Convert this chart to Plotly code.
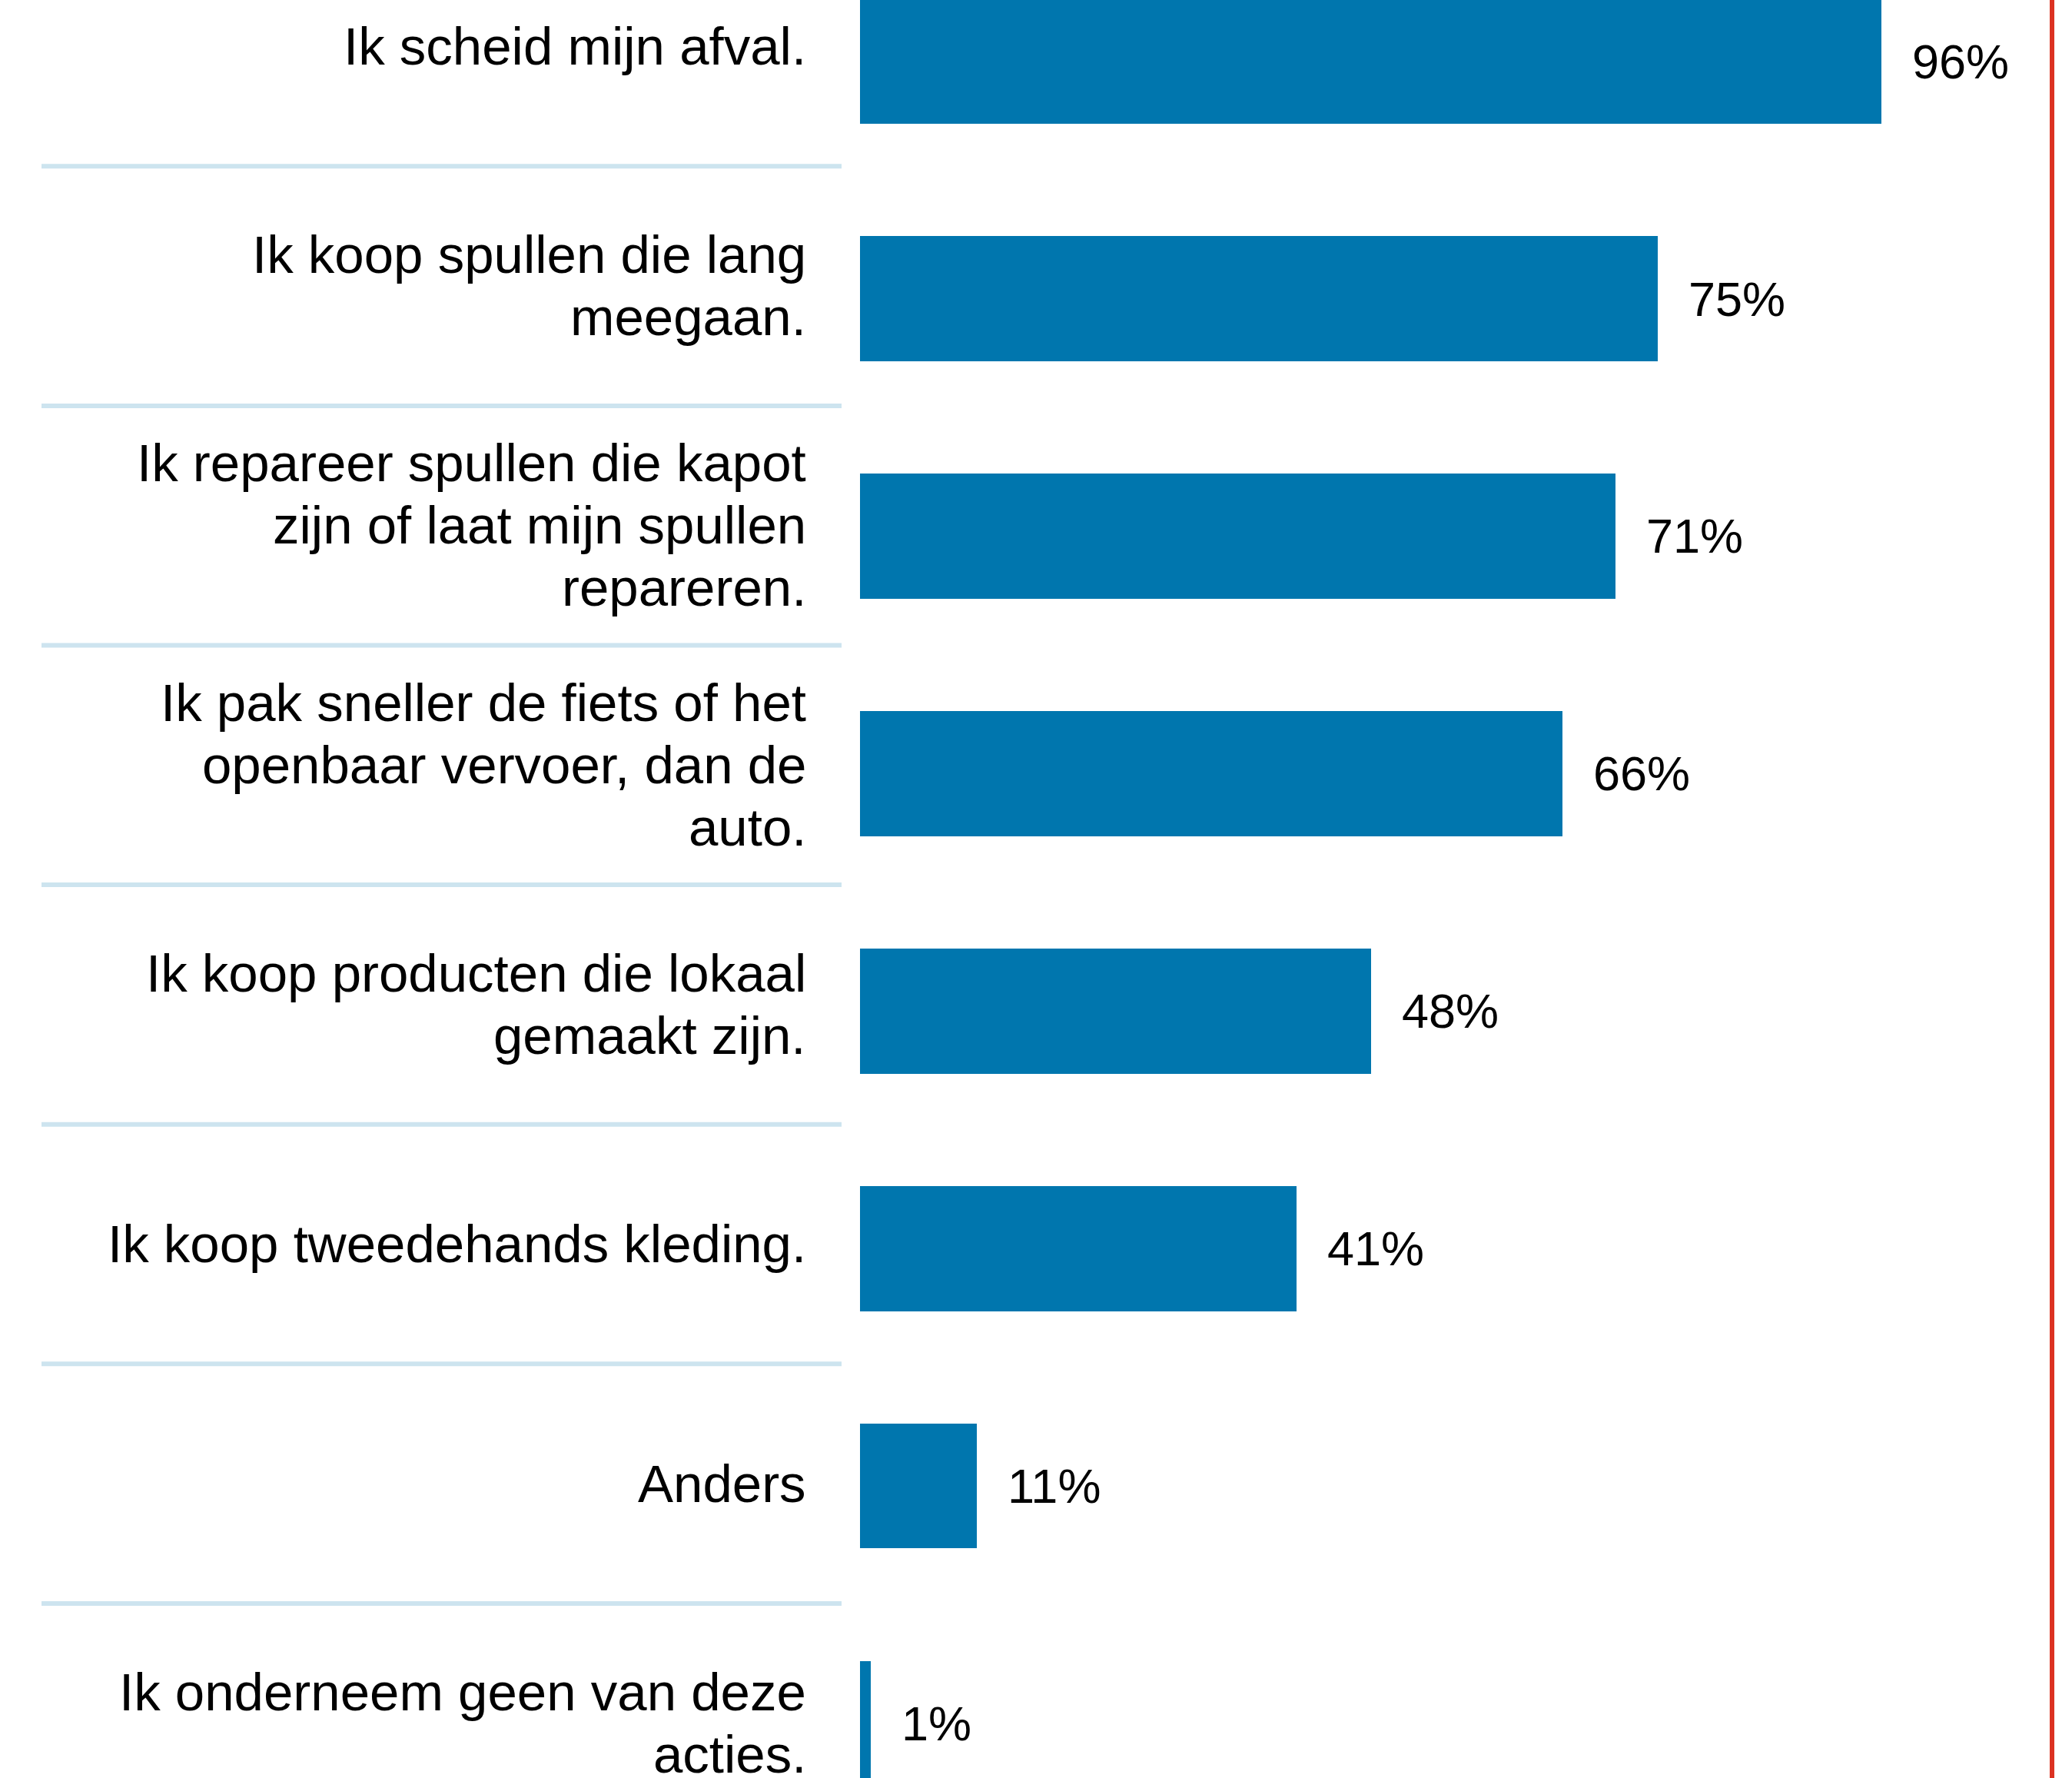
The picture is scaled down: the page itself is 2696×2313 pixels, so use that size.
import plotly.graph_objects as go

# ---- data ----
categories = [
    "Ik scheid mijn afval.",
    "Ik koop spullen die lang<br>meegaan.",
    "Ik repareer spullen die kapot<br>zijn of laat mijn spullen<br>repareren.",
    "Ik pak sneller de fiets of het<br>openbaar vervoer, dan de<br>auto.",
    "Ik koop producten die lokaal<br>gemaakt zijn.",
    "Ik koop tweedehands kleding.",
    "Anders",
    "Ik onderneem geen van deze<br>acties.",
]
values = [96, 75, 71, 66, 48, 41, 11, 1]
value_labels = ["96%", "75%", "71%", "66%", "48%", "41%", "11%", "1%"]

# ---- style ----
W, H = 2696, 2313
BAR_COLOR = "#0076ae"
SEP_COLOR = "#cde4ef"
RED = "#dc3222"
FONT = "Liberation Sans, Arial, sans-serif"
LABEL_SIZE = 69
VALUE_SIZE = 63
LINE_STEP = 81

n = len(categories)
idx = list(range(n))

fig = go.Figure()
fig.add_trace(go.Bar(
    y=idx, x=values, orientation="h",
    marker=dict(color=BAR_COLOR, line=dict(width=0)),
    width=0.527, hoverinfo="skip", showlegend=False,
))

annotations = []
# category labels (left column, own axis y2)
for j, cat in enumerate(categories):
    lines = cat.split("<br>")
    m = len(lines)
    for i, ln in enumerate(lines):
        annotations.append(dict(
            x=1051 / W, xref="paper", y=j, yref="y2",
            text=ln, showarrow=False, xanchor="right", yanchor="middle",
            yshift=((m - 1) / 2 - i) * LINE_STEP,
            font=dict(family=FONT, size=LABEL_SIZE, color="#000000"),
        ))
# value labels
for j, (v, t) in enumerate(zip(values, value_labels)):
    annotations.append(dict(
        x=v, xref="x", y=j, yref="y", text=t, showarrow=False,
        xanchor="left", yanchor="middle", xshift=38,
        font=dict(family=FONT, size=VALUE_SIZE, color="#000000"),
    ))

shapes = []
for j in range(n - 1):
    shapes.append(dict(
        type="line", xref="paper", yref="y2",
        x0=54 / W, x1=1095 / W, y0=j + 0.5, y1=j + 0.5,
        line=dict(color=SEP_COLOR, width=6),
    ))
shapes.append(dict(
    type="line", xref="paper", yref="paper",
    x0=2670 / W, x1=2670 / W, y0=0, y1=1,
    line=dict(color=RED, width=6),
))

px_per_pct = 13.85
x0_px = 1118.7
bar_pitch, bar_c0 = 308.9, 79.6
lab_pitch, lab_c0 = 311.6, 60.5

fig.update_layout(
    width=W, height=H,
    margin=dict(l=0, r=0, t=0, b=0),
    paper_bgcolor="white", plot_bgcolor="white",
    xaxis=dict(range=[-x0_px / px_per_pct, (W - x0_px) / px_per_pct],
               visible=False, showgrid=False, zeroline=False),
    yaxis=dict(range=[(H - bar_c0) / bar_pitch, -bar_c0 / bar_pitch],
               visible=False, showgrid=False, zeroline=False),
    yaxis2=dict(range=[(H - lab_c0) / lab_pitch, -lab_c0 / lab_pitch],
                overlaying="y", visible=False, showgrid=False, zeroline=False),
    annotations=annotations,
    shapes=shapes,
    bargap=0,
)

fig.write_html(
    "out.html",
    config={"displayModeBar": False},
    post_script="document.body.style.margin='0px';document.body.style.overflow='hidden';",
)
